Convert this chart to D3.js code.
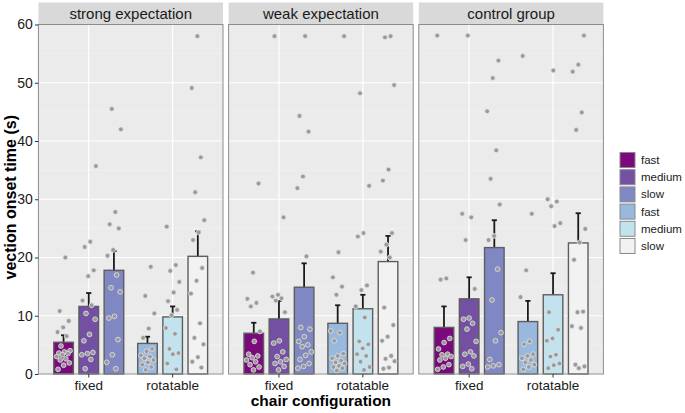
<!DOCTYPE html>
<html><head><meta charset="utf-8">
<script src="https://cdn.jsdelivr.net/npm/d3@7"></script>
<style>html,body{margin:0;padding:0;background:#fff;}svg{display:block;font-family:"Liberation Sans",Arial,sans-serif;}</style>
</head><body><svg id="chart" width="685" height="413"></svg>
<script>
// ---- data ----
const facets = ["strong expectation", "weak expectation", "control group"];
const chairs = ["fixed", "rotatable"];
const speeds = ["fast", "medium", "slow"];
const yTicks = [0, 10, 20, 30, 40, 50, 60];
// order: fixed fast, fixed medium, fixed slow, rotatable fast, rotatable medium, rotatable slow
const fillColors = ["#7a0a7c", "#7350a2", "#7f88c3", "#98b8de", "#c2e2ee", "#f2f2f2"];

const strongMeans = [5.45, 11.6, 17.8, 5.25, 9.8, 20.2];
const strongErrTop = [6.65, 13.9, 21.1, 6.4, 11.6, 24.5];
const weakMeans = [7.0, 9.45, 14.9, 8.7, 11.2, 19.3];
const weakErrTop = [8.8, 12.55, 19.0, 11.8, 13.6, 23.7];
const controlMeans = [8.0, 12.9, 21.7, 9.0, 13.6, 22.5];
const controlErrTop = [11.6, 16.6, 26.4, 12.55, 17.3, 27.6];

const strongPoints = [
  [20.0, 10.8, 9.1, 8.0, 7.2, 6.5, 4.8, 4.0, 3.8, 3.6, 3.5, 3.3, 3.0, 2.6, 2.4, 1.9, 1.5, 0.8],
  [35.7, 22.7, 21.8, 17.8, 16.8, 12.6, 11.8, 10.4, 9.4, 6.8, 5.7, 3.7, 3.5, 3.3, 2.5, 0.9],
  [45.5, 42.0, 27.8, 25.7, 25.0, 21.3, 20.3, 17.0, 14.8, 14.1, 9.9, 9.6, 5.9, 3.3, 2.0, 0.9],
  [18.4, 13.4, 10.4, 7.8, 6.2, 4.3, 3.9, 3.2, 3.0, 2.7, 2.4, 2.0, 1.6, 1.2, 0.7],
  [25.3, 18.7, 17.7, 15.8, 14.0, 12.5, 11.0, 10.1, 7.9, 6.9, 4.3, 3.6, 3.4, 1.8, 0.8],
  [58.0, 49.1, 37.2, 31.2, 26.4, 24.3, 23.0, 18.2, 16.0, 13.8, 8.7, 6.2, 5.1, 2.9, 2.1, 1.1]
];
const weakPoints = [
  [32.7, 17.4, 12.9, 12.2, 11.6, 7.3, 5.6, 3.4, 3.1, 2.8, 2.4, 2.1, 1.6, 1.2, 0.7],
  [58.0, 26.9, 13.6, 13.3, 13.0, 12.6, 10.6, 5.7, 5.3, 3.8, 3.0, 2.5, 2.1, 1.8, 1.3, 0.7],
  [58.0, 44.3, 41.6, 33.9, 31.9, 20.2, 8.0, 7.7, 6.4, 5.6, 5.0, 4.7, 3.8, 3.2, 2.5, 1.8, 1.3, 1.0],
  [58.0, 20.9, 16.6, 15.0, 13.6, 7.4, 7.1, 5.7, 3.5, 3.1, 2.7, 2.3, 2.0, 1.8, 1.4, 1.2, 1.0, 0.6],
  [48.2, 32.3, 24.2, 23.6, 15.2, 14.4, 11.6, 9.7, 5.6, 5.1, 4.4, 3.4, 3.1, 2.1, 1.2, 0.7],
  [58.0, 57.8, 49.6, 35.1, 33.2, 24.2, 22.2, 21.0, 20.0, 11.4, 8.4, 6.4, 5.7, 3.1, 2.6, 2.2, 1.1, 0.9]
];
const controlPoints = [
  [58.1, 16.4, 16.2, 6.1, 5.4, 4.3, 3.4, 3.3, 3.0, 2.7, 2.4, 1.6, 1.2, 0.8],
  [58.1, 27.5, 26.9, 23.0, 14.6, 9.6, 9.4, 8.7, 7.7, 5.6, 3.8, 3.4, 3.1, 1.7, 1.3, 0.9],
  [53.8, 50.8, 45.1, 38.4, 33.5, 29.1, 23.7, 23.0, 18.0, 12.7, 7.1, 5.7, 2.5, 1.6, 1.4, 1.2],
  [54.6, 27.5, 17.8, 13.2, 5.6, 5.1, 3.4, 3.1, 2.7, 2.4, 2.0, 1.6, 1.2, 0.8],
  [52.1, 30.0, 29.6, 28.8, 25.9, 25.4, 10.6, 7.6, 6.1, 5.7, 3.3, 3.0, 1.8, 1.5, 1.0],
  [58.1, 53.1, 51.9, 44.9, 41.9, 24.9, 22.6, 19.6, 10.7, 10.6, 8.2, 7.9, 1.6, 1.3, 1.0]
];

const facetData = [
  {means: strongMeans, err: strongErrTop, pts: strongPoints},
  {means: weakMeans, err: weakErrTop, pts: weakPoints},
  {means: controlMeans, err: controlErrTop, pts: controlPoints}
];

// ---- layout ----
const svg = d3.select("#chart");
const panelTop = 24.5, panelBottom = 374, stripTop = 2.5;
const panelLeft0 = 38.4, panelW = 184.6, panelGap = 5.6;

const y = d3.scaleLinear().domain([0, 60]).range([panelBottom, panelTop]);
const fx = d3.scaleBand().domain(facets)
  .range([panelLeft0, panelLeft0 + 3 * panelW + 2 * panelGap])
  .paddingInner(panelGap / (panelW + panelGap)).paddingOuter(0);
const x = d3.scalePoint().domain(chairs).range([0, fx.bandwidth()]).padding(0.6);
const step = x.step();
const dodge = d3.scaleBand().domain(speeds).range([-0.45 * step, 0.45 * step]);
const barW = dodge.bandwidth() * 0.7 / 0.9;

facets.forEach((f, fi) => {
  const g = svg.append("g").attr("transform", `translate(${fx(f)},0)`);
  const W = fx.bandwidth();
  const fd = facetData[fi];
  // strip
  g.append("rect").attr("x", 0).attr("y", stripTop).attr("width", W).attr("height", panelTop - stripTop)
    .attr("fill", "#d9d9d9");
  g.append("text").attr("x", W / 2).attr("y", 19).attr("text-anchor", "middle")
    .attr("font-size", "15px").attr("fill", "#1a1a1a").text(f);
  // panel bg
  g.append("rect").attr("x", 0).attr("y", panelTop).attr("width", W).attr("height", panelBottom - panelTop)
    .attr("fill", "#ebebeb");
  // minor grid
  d3.range(5, 60, 10).forEach(v => {
    g.append("line").attr("x1", 0).attr("x2", W).attr("y1", y(v)).attr("y2", y(v))
      .attr("stroke", "#f5f5f5").attr("stroke-width", 0.6);
  });
  yTicks.forEach(v => {
    g.append("line").attr("x1", 0).attr("x2", W).attr("y1", y(v)).attr("y2", y(v))
      .attr("stroke", "#ffffff").attr("stroke-width", 1.2);
  });
  chairs.forEach(c => {
    g.append("line").attr("x1", x(c)).attr("x2", x(c)).attr("y1", panelTop).attr("y2", panelBottom)
      .attr("stroke", "#ffffff").attr("stroke-width", 1.2);
  });

  const groups = [];
  chairs.forEach((c, ci) => speeds.forEach((s, si) => {
    const k = ci * 3 + si;
    groups.push({k, cx: x(c) + dodge(s) + dodge.bandwidth() / 2, mean: fd.means[k], top: fd.err[k], pts: fd.pts[k]});
  }));

  // error bars (drawn under bars)
  groups.forEach(d => {
    const lo = Math.max(0, 2 * d.mean - d.top);
    g.append("line").attr("x1", d.cx).attr("x2", d.cx).attr("y1", y(lo)).attr("y2", y(d.top))
      .attr("stroke", "#1a1a1a").attr("stroke-width", 1.8);
    g.append("line").attr("x1", d.cx - 2.6).attr("x2", d.cx + 2.6).attr("y1", y(d.top)).attr("y2", y(d.top))
      .attr("stroke", "#1a1a1a").attr("stroke-width", 1.8);
  });
  // bars
  groups.forEach(d => {
    g.append("rect").attr("x", d.cx - barW / 2).attr("width", barW)
      .attr("y", y(d.mean)).attr("height", y(0) - y(d.mean))
      .attr("fill", fillColors[d.k]).attr("stroke", "#5e5e5e").attr("stroke-width", 1.4);
  });
  // points (deterministic jitter)
  groups.forEach(d => {
    d.pts.forEach((v, i) => {
      const j = (((i + 1) * 0.6180339887 + d.k * 0.37 + fi * 0.21) % 1) - 0.5;
      g.append("circle").attr("cx", d.cx + j * barW * 0.75).attr("cy", y(v)).attr("r", 2.4)
        .attr("fill", "#9a9a9a").attr("stroke", "#e4e4e4").attr("stroke-width", 0.8);
    });
  });
  // panel border
  g.append("rect").attr("x", 0).attr("y", panelTop).attr("width", W).attr("height", panelBottom - panelTop)
    .attr("fill", "none").attr("stroke", "#8c8c8c").attr("stroke-width", 1);

  // x axis labels
  chairs.forEach(c => {
    g.append("line").attr("x1", x(c)).attr("x2", x(c)).attr("y1", panelBottom).attr("y2", panelBottom + 3.5)
      .attr("stroke", "#333");
    g.append("text").attr("x", x(c)).attr("y", 389.5).attr("text-anchor", "middle")
      .attr("font-size", "13.5px").attr("fill", "#1a1a1a").text(c);
  });
});

// y axis
const yAxis = d3.axisLeft(y).tickValues(yTicks).tickSize(3.5).tickPadding(2);
const ya = svg.append("g").attr("transform", `translate(${panelLeft0},0)`).call(yAxis);
ya.select(".domain").remove();
ya.selectAll(".tick line").attr("stroke", "#333");
ya.selectAll(".tick text").attr("font-size", "14px").attr("fill", "#1a1a1a")
  .attr("font-family", "Liberation Sans, Arial, sans-serif");

// axis titles
svg.append("text").attr("transform", `translate(16,${(panelTop + panelBottom) / 2 - 2}) rotate(-90)`)
  .attr("text-anchor", "middle").attr("font-size", "16px").attr("font-weight", "bold").attr("fill", "#000")
  .text("vection onset time (s)");
svg.append("text").attr("x", (panelLeft0 + fx.range()[1]) / 2).attr("y", 406)
  .attr("text-anchor", "middle").attr("font-size", "15.5px").attr("font-weight", "bold").attr("fill", "#000")
  .text("chair configuration");

// legend
const legendLabels = ["fast", "medium", "slow", "fast", "medium", "slow"];
const lg = svg.append("g").attr("transform", "translate(620,152.5)");
legendLabels.forEach((t, i) => {
  lg.append("rect").attr("x", 0).attr("y", i * 17.2).attr("width", 15).attr("height", 15)
    .attr("fill", fillColors[i]).attr("stroke", "#8a8a8a").attr("stroke-width", 1);
  lg.append("text").attr("x", 21).attr("y", i * 17.2 + 11.5).attr("font-size", "11.5px").attr("fill", "#1a1a1a").text(t);
});
</script></body></html>
